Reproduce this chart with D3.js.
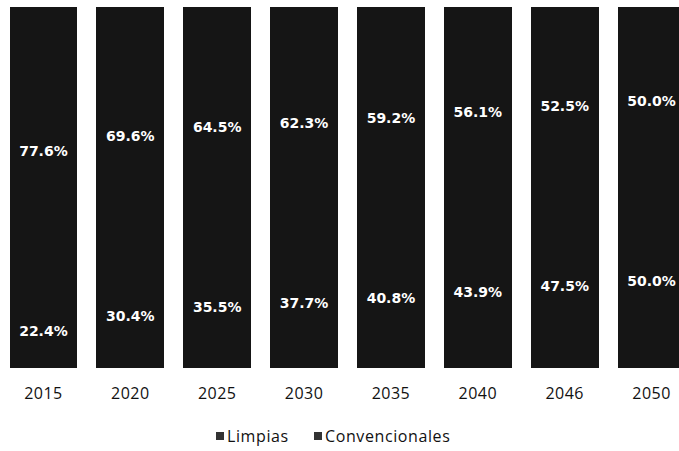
<!DOCTYPE html>
<html>
<head>
<meta charset="utf-8">
<script src="https://cdn.jsdelivr.net/npm/d3@7"></script>
<style>
  html, body { margin: 0; padding: 0; background: #fff; }
  svg { display: block; }
</style>
</head>
<body>
<svg id="chart" width="679" height="451"></svg>
<script>
const years = ["2015", "2020", "2025", "2030", "2035", "2040", "2046", "2050"];
const limpias = [22.4, 30.4, 35.5, 37.7, 40.8, 43.9, 47.5, 50.0];
const convencionales = [77.6, 69.6, 64.5, 62.3, 59.2, 56.1, 52.5, 50.0];
const seriesNames = ["Limpias", "Convencionales"];
const seriesColors = ["#151515", "#151515"];

(function () {
const svg = d3.select("#chart");
const plotTop = 7, plotBottom = 367;

const rows = years.map((yr, i) => ({ year: yr, Limpias: limpias[i], Convencionales: convencionales[i] }));
const stack = d3.stack().keys(seriesNames)(rows);

const x = d3.scaleBand().domain(years).range([0, 695]).paddingInner(0.22).paddingOuter(0.11);
const y = d3.scaleLinear().domain([0, 100]).range([plotBottom, plotTop]);
const color = d3.scaleOrdinal().domain(seriesNames).range(seriesColors);

const g = svg.append("g");
stack.forEach(layer => {
  const lg = g.append("g").attr("fill", color(layer.key)).attr("shape-rendering", "crispEdges");
  lg.selectAll("rect").data(layer).join("rect")
    .attr("x", d => x(d.data.year))
    .attr("width", x.bandwidth())
    .attr("y", d => Math.floor(y(d[1])))
    .attr("height", d => Math.ceil(y(d[0])) - Math.floor(y(d[1])) + 1);
});
stack.forEach(layer => {
  g.append("g").selectAll("text").data(layer).join("text")
    .attr("x", d => x(d.data.year) + x.bandwidth() / 2)
    .attr("y", d => (y(d[0]) + y(d[1])) / 2 + 9)
    .attr("text-anchor", "middle")
    .attr("fill", "#fff")
    .attr("font-family", "DejaVu Sans, Verdana, sans-serif")
    .attr("font-weight", "bold")
    .attr("font-size", 14)
    .text(d => (d[1] - d[0]).toFixed(1) + "%");
});

const xAxis = d3.axisBottom(x).tickSize(0).tickPadding(0);
const ax = svg.append("g").attr("transform", `translate(0,${plotBottom + 21})`).call(xAxis);
ax.select(".domain").remove();
ax.selectAll("text")
  .attr("font-family", "Open Sans, Noto Sans, sans-serif")
  .attr("font-size", 16)
  .attr("letter-spacing", 0.5)
  .attr("fill", "#111");

const legend = svg.append("g").attr("transform", "translate(0,442)");
const legendX = [216, 314];
seriesNames.forEach((n, i) => {
  legend.append("rect").attr("x", legendX[i]).attr("y", -10).attr("width", 8).attr("height", 8).attr("fill", "#333");
  legend.append("text").attr("x", legendX[i] + 11).attr("y", 0)
    .attr("font-family", "Open Sans, Noto Sans, sans-serif")
    .attr("font-size", 16)
    .attr("letter-spacing", 0.6)
    .attr("fill", "#111")
    .text(n);
});
})();
</script>
</body>
</html>
